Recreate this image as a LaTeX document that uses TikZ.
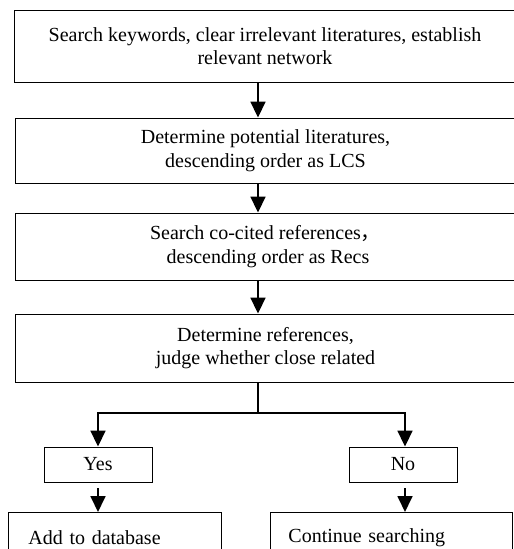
\documentclass[tikz,border=0pt]{standalone}
\usepackage{fontspec}
\setmainfont{Liberation Serif}
\newfontfamily\cjk{Noto Sans CJK SC}
\usetikzlibrary{arrows.meta}
\begin{document}
\begin{tikzpicture}[x=1pt,y=-1pt,
  box/.style={draw, line width=0.9pt, inner sep=0pt, align=center,
    font=\fontsize{20}{23.5}\selectfont},
  leftbox/.style={box, anchor=north west, align=left, minimum height=50pt},
  arr/.style={line width=1.8pt, -{Triangle[width=15pt,length=16pt]}},
  seg/.style={line width=1.8pt}]
\useasboundingbox (0,0) rectangle (514,549);
\clip (0,0) rectangle (514,549);
\coordinate (ax) at (258,0);
\coordinate (nx) at (405,0);
\node[box, minimum width=502pt, minimum height=72pt] (b1) at (265,46)
  {Search keywords, clear irrelevant literatures, establish\\relevant network};
\node[box, minimum width=501pt, minimum height=65pt] (b2) at (265.5,150.5)
  {Determine potential literatures,\\descending order as LCS};
\node[box, minimum width=501pt, minimum height=67pt] (b3) at (265.5,246.5)
  {Search co-cited references{\cjk ，}\\\ descending order as Recs};
\node[box, minimum width=501pt, minimum height=68pt] (b4) at (265.5,348)
  {Determine references,\\judge whether close related};
\node[box, minimum width=108pt, minimum height=35pt] (yes) at (98,464.5) {Yes};
\node[box, minimum width=108pt, minimum height=35pt] (no) at (403,464.5) {No};
\node[leftbox, inner xsep=20pt, text width=173pt] (add) at (8,512) {Add to database};
\node[leftbox, inner xsep=18pt, text width=206pt] (cont) at (270,512) {Continue searching};
\coordinate (j) at (258,413);
\draw[arr] (b1.south -| ax) -- (b2.north -| ax);
\draw[arr] (b2.south -| ax) -- (b3.north -| ax);
\draw[arr] (b3.south -| ax) -- (b4.north -| ax);
\draw[seg] (b4.south -| ax) -- (j);
\draw[arr] (j) -| (yes.north);
\draw[arr] (j) -| (no.north -| nx);
\draw[arr] ([yshift=-6pt]yes.south) -- (add.north -| yes.south);
\draw[arr] ([yshift=-6pt]no.south -| nx) -- (cont.north -| nx);
\end{tikzpicture}
\end{document}
